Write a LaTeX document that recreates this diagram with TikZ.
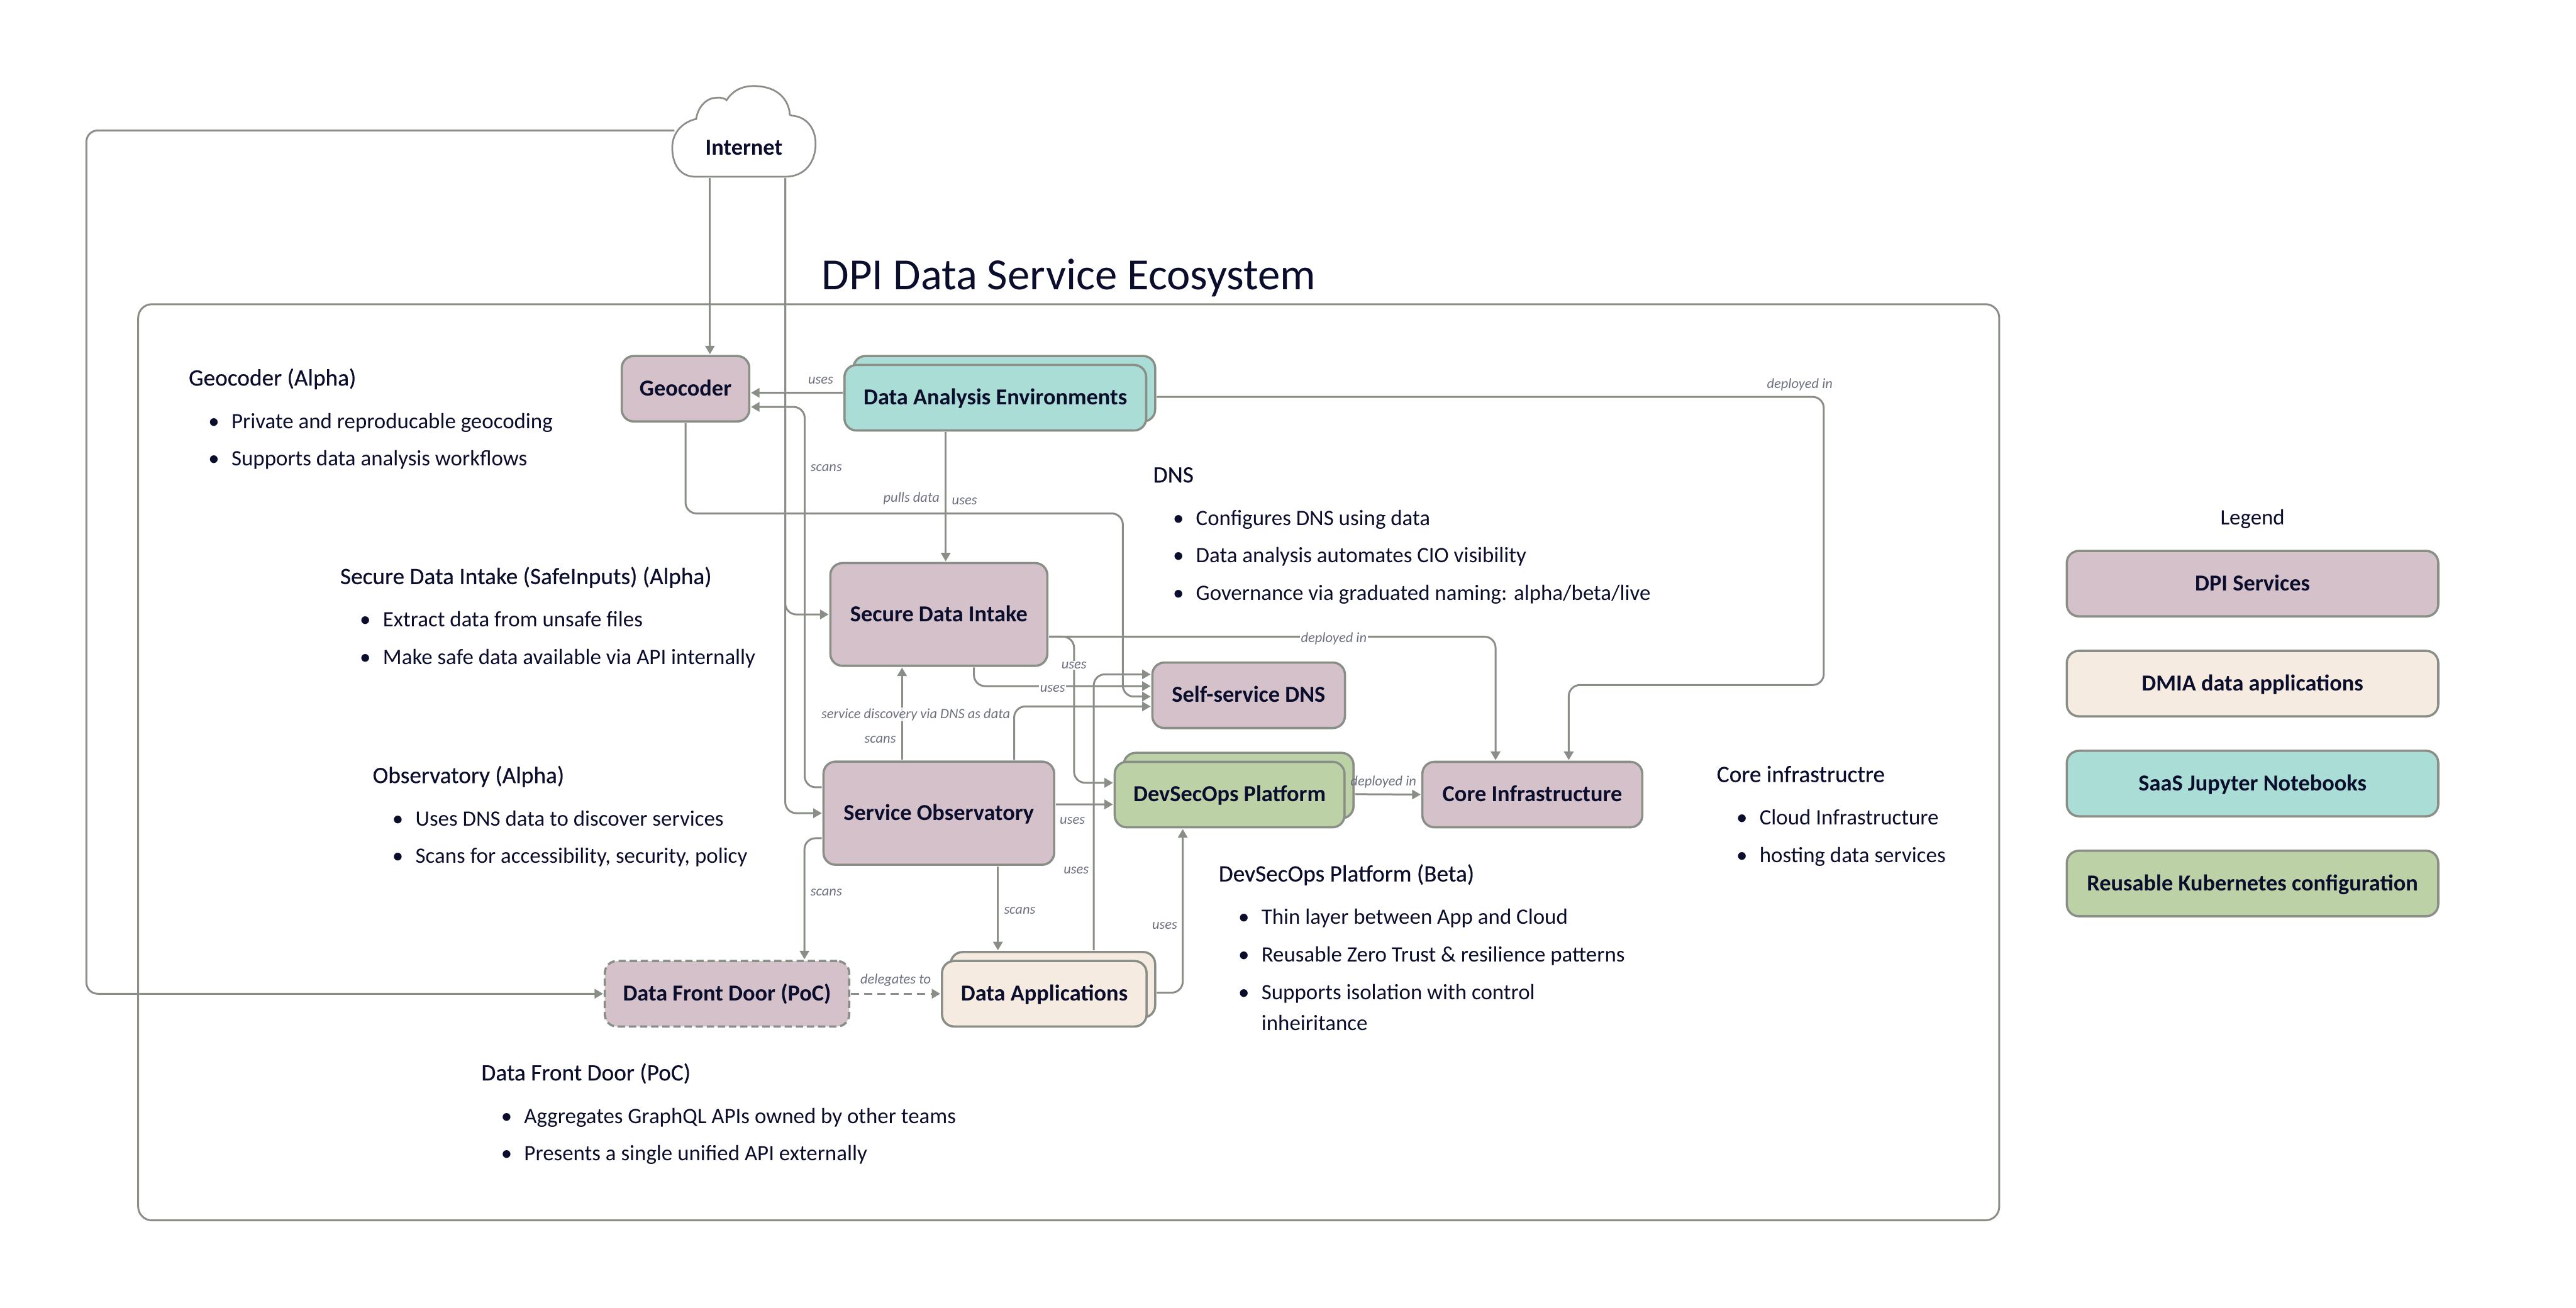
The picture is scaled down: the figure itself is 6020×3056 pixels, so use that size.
\documentclass[tikz,border=0pt]{standalone}
\usepackage{fontspec}
\setmainfont{Carlito}
\newfontface\notehead[FakeBold=0.4]{Carlito}
\usepackage{tikz}
\usetikzlibrary{arrows.meta,positioning}
\definecolor{dpimauve}{RGB}{212,193,201}
\definecolor{dpicream}{RGB}{245,235,224}
\definecolor{dpiteal}{RGB}{170,221,213}
\definecolor{dpigreen}{RGB}{189,209,167}
\definecolor{dpiline}{RGB}{137,143,135}
\definecolor{dpiink}{RGB}{11,13,44}
\definecolor{dpilabel}{RGB}{108,112,128}
\newcommand{\noteitem}[1]{\hspace*{2.3mm}\makebox[2.7mm][l]{\textbullet}#1}
\newcommand{\notecont}[1]{\hspace*{5mm}#1}
\newcommand{\noteheading}[1]{{\fontsize{7.8}{12.5}\selectfont\notehead #1}}

\begin{document}
\begin{tikzpicture}[
  x=0.05mm, y=-0.05mm,
  every node/.style={text=dpiink, inner sep=0pt, outer sep=0pt},
  svctext/.style={text height=1.96mm, text depth=0.3mm, font=\fontsize{7.6}{9}\selectfont\bfseries},
  svc/.style={rectangle, rounded corners=1.4mm, draw=dpiline, line width=0.26mm, minimum height=7.65mm, align=center, svctext},
  mauve/.style={svc, fill=dpimauve},
  cream/.style={svc, fill=dpicream},
  teal/.style={svc, fill=dpiteal},
  green/.style={svc, fill=dpigreen},
  arr/.style={-{Triangle[length=1mm,width=1.1mm]}, line width=0.22mm, dpiline, rounded corners=1.3mm, shorten >=0.2mm, shorten <=0.2mm},
  lbl/.style={font=\fontsize{4.7}{6}\selectfont\itshape, text=dpilabel, yshift=-0.15mm},
  lblw/.style={lbl, fill=white, inner sep=0.3pt},
  note/.style={anchor=north west, align=left, font=\fontsize{7.3}{12.5}\selectfont}
]
\useasboundingbox (0,0) rectangle (6020,3056);

% Frame and title
\node[rectangle, rounded corners=1.6mm, draw=dpiline, line width=0.22mm, minimum width=217.45mm, minimum height=107.05mm] (ecosystem) at (2497.5,1781.5) {};
\node[font=\fontsize{14.8}{17}\selectfont, above=0.9mm of ecosystem] (title) {DPI Data Service Ecosystem};

% Cloud
\draw[line width=0.2mm, dpiline, fill=white] (1625,413) -- (1835,413)
  .. controls (1880,413) and (1906,380) .. (1906,336)
  .. controls (1906,300) and (1885,272) .. (1849,270)
  .. controls (1843,268) and (1846,264) .. (1845,260)
  .. controls (1838,225) and (1810,201) .. (1761,201)
  .. controls (1730,201) and (1710,215) .. (1698,234)
  .. controls (1688,226) and (1678,228) .. (1668,229)
  .. controls (1645,233) and (1630,255) .. (1627,278)
  .. controls (1595,285) and (1571,310) .. (1571,345)
  .. controls (1571,385) and (1590,413) .. (1625,413) -- cycle;
\node[svctext, minimum width=16.75mm, minimum height=6.65mm] (internet) at (1738.5,346) {Internet};

% Services
\node[mauve, minimum width=14.9mm] (geocoder) at (1602,908.5) {Geocoder};
\node[teal, minimum width=35.25mm] (daeback) at (2347,908.5) {};
\node[teal, minimum width=35.25mm] (dae) at ([shift={(-21,21)}]daeback.center) {Data Analysis Environments};
\node[mauve, minimum width=25.35mm, minimum height=12mm] (sdi) at (2194,1436) {Secure Data Intake};
\node[mauve, minimum width=26.95mm, minimum height=12.05mm, below=11.2mm of sdi] (so) {Service Observatory};
\node[mauve, minimum width=22.5mm] (dns) at (2918,1625) {Self-service DNS};
\node[green, minimum width=26.85mm] (devback) at (2894.5,1836) {};
\node[green, minimum width=26.85mm] (dev) at ([shift={(-21,21)}]devback.center) {DevSecOps Platform};
\node[mauve, minimum width=25.7mm, right=9.1mm of dev] (core) {Core Infrastructure};
\node[cream, minimum width=23.9mm] (appsback) at (2460.5,2301.5) {};
\node[cream, minimum width=23.9mm] (apps) at ([shift={(-20,21)}]appsback.center) {Data Applications};
\node[mauve, dashed, dash pattern=on 0.85mm off 0.45mm, minimum width=28.55mm, left=10.85mm of apps] (door) {Data Front Door (PoC)};

% Turning points
\coordinate (outerleft) at (202,2000);
\coordinate (dnsdrop) at (2624,1200);
\coordinate (coreright) at (4262,1601);
\coordinate (usesdrop) at (2510,1700);

% Connectors
\draw[arr] ([shift={(-79.5,0)}]internet.south) -- ([shift={(57,0)}]geocoder.north);
\draw[arr] ([shift={(9,-41)}]internet.west) -| (outerleft) |- (door.west);
\draw[arr] ([shift={(96.5,0)}]internet.south) |- (sdi.west);
\draw[arr] ([shift={(96.5,0)}]internet.south) |- (so.west);
\draw[arr] ([shift={(0,-60.5)}]so.west) -- ++(-44,0) |- ([shift={(0,42.5)}]geocoder.east);
\draw[arr] ([shift={(0,-11.5)}]dae.west) -- ([shift={(0,9.5)}]geocoder.east);
\draw[arr] ([shift={(-116,0)}]dae.south) -- ([shift={(16,0)}]sdi.north);
\draw[arr] (geocoder.south) |- (dnsdrop) |- ([shift={(0,3)}]dns.west);
\draw[arr] ([shift={(0,19)}]daeback.east) -| (coreright) -| ([shift={(85,0)}]core.north);
\draw[arr] ([shift={(0,52)}]sdi.east) -| ([shift={(-86,0)}]core.north);
\draw[arr] ([shift={(0,52)}]sdi.east) -| (usesdrop) |- ([shift={(0,-27.5)}]dev.west);
\draw[arr] ([shift={(82,0)}]sdi.south) |- ([shift={(0,-21.5)}]dns.west);
\draw[arr] ([shift={(176,0)}]so.north) |- ([shift={(0,26)}]dns.west);
\draw[arr] ([shift={(-86,0)}]so.north) -- ([shift={(-86,0)}]sdi.south);
\draw[arr] ([shift={(0,-20.5)}]so.east) -- ([shift={(0,23)}]dev.west);
\draw[arr] ([shift={(0,58.5)}]so.west) -| ([shift={(181,0)}]door.north);
\draw[arr] ([shift={(138,0)}]so.south) -- ([shift={(-128.5,0)}]appsback.north);
\draw[arr] ([shift={(95.5,0)}]appsback.north) |- ([shift={(0,-49)}]dns.west);
\draw[arr] ([shift={(0,18.5)}]appsback.east) -| ([shift={(-109.5,0)}]dev.south);
\draw[arr, dash pattern=on 0.95mm off 0.6mm] (door.east) -- (apps.west);
\draw[arr] ([shift={(0,20)}]devback.east) -- (core.west);

% Connector labels
\node[lbl] (lbluses1) at (1918,886) {uses};
\node[lbl] (lblscans1) at (1931,1090) {scans};
\node[lbl] (lblpulls) at (2130,1162) {pulls data};
\node[lbl] (lbluses2) at (2254,1169) {uses};
\node[lblw] (lbldeployed1) at (3117,1490) {deployed in};
\node[lblw] (lbluses3) at (2510,1552) {uses};
\node[lblw] (lbluses4) at (2460,1607) {uses};
\node[lblw, fill opacity=0.8, text opacity=1] (lbldiscovery) at (2140,1667) {service discovery via DNS as data};
\node[lbl] (lblscans2) at (2057,1726) {scans};
\node[lbl] (lbldeployed2) at (3233,1825) {deployed in};
\node[lbl] (lbluses5) at (2506,1915) {uses};
\node[lbl] (lbluses6) at (2515,2031) {uses};
\node[lbl] (lblscans3) at (1931,2083) {scans};
\node[lbl] (lblscans4) at (2383,2125) {scans};
\node[lbl] (lbluses7) at (2722,2160) {uses};
\node[lbl] (lbldelegates) at (2093,2288) {delegates to};
\node[lbl] (lbldeployed3) at (4206,895) {deployed in};

% Notes
\node[note] (notegeo) at (441,861) {\noteheading{Geocoder (Alpha)}\\[0.6mm]
  \noteitem{Private and reproducable geocoding}\\
  \noteitem{Supports data analysis workflows}};
\node[note] (notesdi) at (795,1325) {\noteheading{Secure Data Intake (SafeInputs) (Alpha)}\\[0.6mm]
  \noteitem{Extract data from unsafe files}\\
  \noteitem{Make safe data available via API internally}};
\node[note] (noteobs) at (871,1790) {\noteheading{Observatory (Alpha)}\\[0.6mm]
  \noteitem{Uses DNS data to discover services}\\
  \noteitem{Scans for accessibility, security, policy}};
\node[note] (notedoor) at (1125,2485) {\noteheading{Data Front Door (PoC)}\\[0.6mm]
  \noteitem{Aggregates GraphQL APIs owned by other teams}\\
  \noteitem{Presents a single unified API externally}};
\node[note] (notedns) at (2695,1092) {\noteheading{DNS}\\[0.6mm]
  \noteitem{Configures DNS using data}\\
  \noteitem{Data analysis automates CIO visibility}\\
  \noteitem{Governance via graduated naming: alpha/beta/live}};
\node[note] (notedev) at (2848,2020) {\noteheading{DevSecOps Platform (Beta)}\\[0.6mm]
  \noteitem{Thin layer between App and Cloud}\\
  \noteitem{Reusable Zero Trust \& resilience patterns}\\
  \noteitem{Supports isolation with control}\\[-0.75mm]
  \notecont{inheiritance}};
\node[note] (notecore) at (4012,1790) {\noteheading{Core infrastructre}\\[0.6mm]
  \noteitem{Cloud Infrastructure}\\
  \noteitem{hosting data services}};

% Legend
\node[font=\fontsize{7.3}{9}\selectfont] (legend) at (5264,1213) {Legend};
\node[mauve, minimum width=43.4mm] (legdpi) at (5264,1364) {DPI Services};
\node[cream, minimum width=43.4mm, below=4.03mm of legdpi] (legdmia) {DMIA data applications};
\node[teal, minimum width=43.4mm, below=4.03mm of legdmia] (legsaas) {SaaS Jupyter Notebooks};
\node[green, minimum width=43.4mm, below=4.03mm of legsaas] (legkube) {Reusable Kubernetes configuration};
\end{tikzpicture}
\end{document}
